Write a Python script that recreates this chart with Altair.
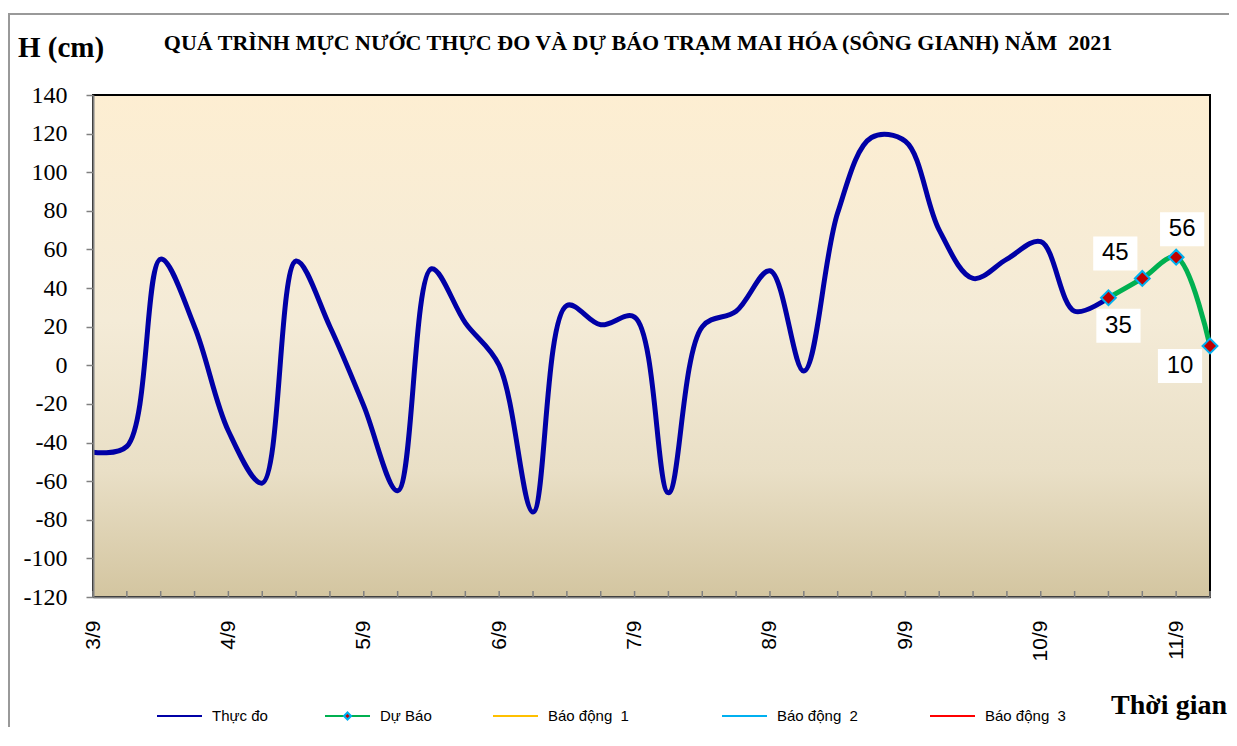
import altair as alt
import pandas as pd

# ---------------- data ----------------
days = ["3/9", "4/9", "5/9", "6/9", "7/9", "8/9", "9/9", "10/9", "11/9"]
steps_per_day = 4  # one reading every 6 hours
observed = [-45, -42, 55, 20, -34, -61, 54, 20, -21, -65, 50, 22, 0, -76, 31, 21,
            25, -66, 20, 28, 49, -3, 79, 118, 116, 70, 45, 55, 64, 28, 35]
forecast = [35, 45, 56, 10]
y_ticks = list(range(-120, 141, 20))
legend_names = ["Thực đo", "Dự Báo", "Báo động\u00a0 1", "Báo động\u00a0 2", "Báo động\u00a0 3"]
legend_colors = ["#0000A6", "#00B050", "#FFC000", "#00B0F0", "#FF0000"]
title_text = "QUÁ TRÌNH MỰC NƯỚC THỰC ĐO VÀ DỰ BÁO TRẠM MAI HÓA (SÔNG GIANH) NĂM\u00a0 2021"
y_title = "H (cm)"
x_title = "Thời gian"

# ---------------- layout / style ----------------
W, H = 1117, 502
PAD_L, PAD_T = 85, 87
OX, OY = 93, 95  # page position of plot origin
label_offsets = [(10, 28), (-27, -25), (6, -28), (-30, 20)]
legend_starts = [157, 325, 493, 722, 930]
legend_line = 45
legend_gap = 55
legend_y = 716

fc_start = len(observed) - 1
n_total = fc_start + len(forecast)
obs_df = pd.DataFrame({"t": list(range(len(observed))), "h": observed})
fc_df = pd.DataFrame({"t": list(range(fc_start, n_total)), "h": forecast})
tick_df = pd.DataFrame({"t": list(range(n_total))})
one = pd.DataFrame({"a": [0]})

label_js = "[" + ",".join("'%s'" % d for d in days) + "][round(datum.value/%d)]" % steps_per_day

x_scale = alt.Scale(domain=[0, n_total - 1], nice=False, zero=False)
y_scale = alt.Scale(domain=[-120, 140], nice=False, zero=False)

X = alt.X("t:Q", scale=x_scale, title=None,
          axis=alt.Axis(values=list(range(0, n_total, steps_per_day)), labelExpr=label_js,
                        labelAngle=270, labelAlign="right", labelBaseline="middle",
                        labelFont="Liberation Sans", labelFontSize=21, labelColor="black",
                        tickSize=0, labelPadding=23, domainColor="#808080", domainWidth=2,
                        grid=False, zindex=1))
Y = alt.Y("h:Q", scale=y_scale, title=None,
          axis=alt.Axis(values=y_ticks, labelExpr="'' + datum.value",
                        labelFont="Liberation Serif", labelFontSize=24,
                        labelColor="black", tickSize=7, tickColor="#808080", tickWidth=1.5,
                        labelPadding=19, domainColor="#808080", domainWidth=2,
                        grid=False, zindex=1))

gradient = alt.LinearGradient(
    gradient="linear",
    stops=[alt.GradientStop(color="#FDEED2", offset=0),
           alt.GradientStop(color="#F4EBD7", offset=0.45),
           alt.GradientStop(color="#E9DFC6", offset=0.75),
           alt.GradientStop(color="#D3C5A0", offset=1)],
    x1=0, x2=0, y1=0, y2=1)

bg = alt.Chart(one).mark_rect(fill=gradient, stroke="black", strokeWidth=2).encode(
    x=alt.value(0), x2=alt.value(W), y=alt.value(0), y2=alt.value(H))

obs_line = alt.Chart(obs_df).mark_line(color=legend_colors[0], strokeWidth=5,
                                       interpolate="catmull-rom").encode(x=X, y=Y)
fc_line = alt.Chart(fc_df).mark_line(color=legend_colors[1], strokeWidth=5,
                                     interpolate="catmull-rom").encode(x=X, y=Y)
fc_pts = alt.Chart(fc_df).mark_point(shape="diamond", filled=True, fill="#C00000",
                                     stroke="#00B0F0", strokeWidth=2, size=220,
                                     opacity=1).encode(x=X, y=Y)

ticks = alt.Chart(tick_df).mark_rule(color="#808080", strokeWidth=1.5).encode(
    x=X, y=alt.value(H), y2=alt.value(H - 6))

layers = [bg, obs_line, fc_line, fc_pts, ticks]

box_path = "M-1.3,-1L1.3,-1L1.3,1L-1.3,1Z"
for i, (dx, dy) in enumerate(label_offsets):
    d = fc_df.iloc[[i]]
    layers.append(alt.Chart(d).mark_point(shape=box_path, size=34 * 34, filled=True,
                                          fill="white", strokeWidth=0, opacity=1,
                                          xOffset=dx, yOffset=dy).encode(x=X, y=Y))
    layers.append(alt.Chart(d).mark_text(font="Liberation Sans", fontSize=24, color="black",
                                         dx=dx, dy=dy, align="center",
                                         baseline="middle").encode(x=X, y=Y, text="h:Q"))

# titles
layers.append(alt.Chart(one).mark_text(font="Liberation Serif", fontWeight="bold", fontSize=22,
                                       align="center", baseline="middle", color="black").encode(
    x=alt.value(638 - OX), y=alt.value(43 - OY), text=alt.value(title_text)))
layers.append(alt.Chart(one).mark_text(font="Liberation Serif", fontWeight="bold", fontSize=29,
                                       align="left", baseline="middle", color="black").encode(
    x=alt.value(18 - OX), y=alt.value(48 - OY), text=alt.value(y_title)))
layers.append(alt.Chart(one).mark_text(font="Liberation Serif", fontWeight="bold", fontSize=28,
                                       align="right", baseline="middle", color="black").encode(
    x=alt.value(1227 - OX), y=alt.value(706 - OY), text=alt.value(x_title)))

# outer border (top and left)
layers.append(alt.Chart(one).mark_rule(color="#999999", strokeWidth=2).encode(
    x=alt.value(-PAD_L), x2=alt.value(W + 40), y=alt.value(14 - OY)))
layers.append(alt.Chart(one).mark_rule(color="#999999", strokeWidth=2).encode(
    x=alt.value(-PAD_L + 1), y=alt.value(14 - OY), y2=alt.value(H + 140)))

# legend
for name, color, sx in zip(legend_names, legend_colors, legend_starts):
    layers.append(alt.Chart(one).mark_rule(color=color, strokeWidth=2).encode(
        x=alt.value(sx - OX), x2=alt.value(sx + legend_line - OX), y=alt.value(legend_y - OY)))
    layers.append(alt.Chart(one).mark_text(font="Liberation Sans", fontSize=15, align="left",
                                           baseline="middle", color="black").encode(
        x=alt.value(sx + legend_gap - OX), y=alt.value(legend_y - OY), text=alt.value(name)))
    if name == "Dự Báo":
        layers.append(alt.Chart(one).mark_point(shape="diamond", filled=True, fill="#C00000",
                                                stroke="#00B0F0", strokeWidth=2, size=50,
                                                opacity=1).encode(
            x=alt.value(sx + legend_line / 2 - OX), y=alt.value(legend_y - OY)))

chart = alt.layer(*layers).properties(
    width=W, height=H,
    autosize=alt.AutoSizeParams(type="none"),
    padding={"left": PAD_L, "top": PAD_T, "right": 19, "bottom": 130},
    background="white",
).configure_view(stroke=None)

chart.save("out.html", embed_options={"renderer": "svg", "actions": False})
